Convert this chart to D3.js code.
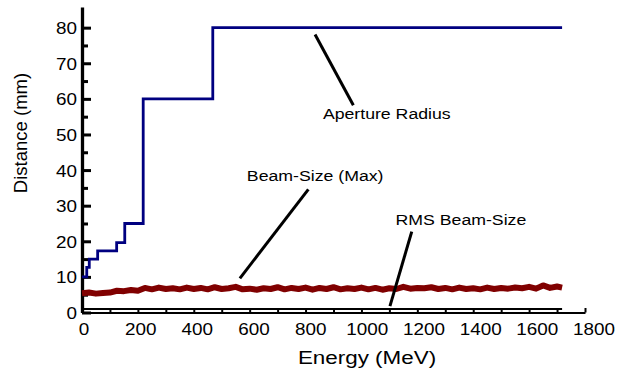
<!DOCTYPE html>
<html>
<head>
<meta charset="utf-8">
<script src="https://cdnjs.cloudflare.com/ajax/libs/d3/7.8.5/d3.min.js"></script>
<style>
	body { margin: 0; background: #fff; }
	svg { display: block; font-family: "Liberation Sans", Arial, sans-serif; }
	.axis path, .axis line { stroke: #000; }
</style>
</head>
<body>
<svg id="chart" width="625" height="371"></svg>
<script>
"use strict";

//aperture radius, step function (MeV, mm)
var apertureEnergy = [0, 17, 26, 56, 124, 153, 219, 468, 1718];
var apertureRadius = [10, 12.7, 15, 17.3, 19.6, 25, 60, 80, 80];

//maximum beam size along the linac (MeV, mm)
var beamEnergy = [0, 25, 50, 75, 100, 125, 150, 175, 200, 225, 250, 275, 300, 325, 350, 375,
	400, 425, 450, 475, 500, 525, 550, 575, 600, 625, 650, 675, 700, 725, 750, 775,
	800, 825, 850, 875, 900, 925, 950, 975, 1000, 1025, 1050, 1075, 1100, 1125, 1150, 1175,
	1200, 1225, 1250, 1275, 1300, 1325, 1350, 1375, 1400, 1425, 1450, 1475, 1500, 1525, 1550, 1575,
	1600, 1625, 1650, 1675, 1700, 1718];
var beamMax = [5.4, 5.6, 5.3, 5.5, 5.6, 6.1, 6.0, 6.3, 6.1, 6.9, 6.5, 7.0, 6.6, 6.8, 6.5, 7.0,
	6.6, 6.9, 6.5, 7.1, 6.6, 6.8, 7.2, 6.5, 6.7, 6.4, 6.8, 6.6, 7.1, 6.5, 6.9, 6.6,
	7.0, 6.4, 6.9, 6.6, 7.1, 6.5, 6.8, 6.6, 7.0, 6.5, 6.9, 6.4, 6.8, 6.6, 7.2, 6.7,
	6.9, 6.8, 7.1, 6.6, 6.9, 6.5, 7.0, 6.6, 6.8, 6.5, 7.0, 6.6, 6.9, 6.7, 7.0, 6.8,
	7.2, 6.7, 7.6, 6.9, 7.3, 7.0];

//rms beam size (MeV, mm)
var rmsEnergy = [0, 400, 800, 1200, 1718];
var rmsSize = [1.0, 1.0, 1.0, 1.0, 1.0];

//axis ticks
var xTicks = [0, 200, 400, 600, 800, 1000, 1200, 1400, 1600, 1800];
var xMinorTicks = [100, 300, 500, 700, 900, 1100, 1300, 1500, 1700];
var yTicks = [0, 10, 20, 30, 40, 50, 60, 70, 80];
var yMinorTicks = [5, 15, 25, 35, 45, 55, 65, 75];

//labels with leader lines, in data units
var labelText = ['Aperture Radius', 'Beam-Size (Max)', 'RMS Beam-Size'];
var labelAt = [[862, 54.3], [590, 36.9], [1122, 24.6]];
var leaderFrom = [[834, 78.1], [810, 34.6], [1180, 22.7]];
var leaderTo = [[971, 58.2], [565, 9.6], [1102, 1.8]];

//the original text is drawn a bit wider than the font
var STRETCH = 1.18;

var svg = d3.select('#chart');

var x = d3.scaleLinear().domain([0, 1800]).range([82, 585]);
//tick labels drift slightly right of the tick marks in the original
var xLabel = d3.scaleLinear().domain([0, 1800]).range([84, 594]);
var y = d3.scaleLinear().domain([0, 85.8]).range([312.5, 7]);

function wideText(parent, px, py, size, anchor, str) {
	return parent.append('text')
		.attr('transform', 'translate(' + px + ',' + py + ') scale(' + STRETCH + ',1)')
		.attr('text-anchor', anchor)
		.attr('font-size', size)
		.attr('fill', '#000')
		.text(str);
}

//y axis, ticks pointing inward
var yAxis = svg.append('g')
	.attr('class', 'axis')
	.attr('transform', 'translate(82,0)')
	.call(d3.axisLeft(y).tickValues(yTicks).tickSize(-9).tickSizeOuter(0).tickFormat(''));
yAxis.select('.domain').attr('stroke-width', 3.3);
yAxis.selectAll('.tick line').attr('stroke-width', 3);

var yMinor = svg.append('g')
	.attr('class', 'axis')
	.attr('transform', 'translate(82,0)')
	.call(d3.axisLeft(y).tickValues(yMinorTicks).tickSize(-6).tickSizeOuter(0).tickFormat(''));
yMinor.select('.domain').remove();
yMinor.selectAll('.tick line').attr('stroke-width', 3);

var yLabels = svg.append('g');
yTicks.forEach(function(d) {
	wideText(yLabels, 77, y(d) + 6.5, 16, 'end', d);
});

//x axis, ticks pointing up
var xAxis = svg.append('g')
	.attr('class', 'axis')
	.attr('transform', 'translate(0,' + y(0) + ')')
	.call(d3.axisBottom(x).tickValues(xTicks.concat(xMinorTicks)).tickSize(-4.5).tickSizeOuter(0)
		.tickFormat(''));
xAxis.select('.domain').attr('stroke-width', 2);
xAxis.selectAll('.tick line').attr('stroke-width', 2);

var xLabels = svg.append('g');
xTicks.forEach(function(d) {
	wideText(xLabels, xLabel(d), 335, 16, 'middle', d);
});

//axis titles
wideText(svg, 367, 364, 19, 'middle', 'Energy (MeV)');

svg.append('text')
	.attr('transform', 'translate(27,133) rotate(-90)')
	.attr('text-anchor', 'middle')
	.attr('font-size', 18.5)
	.text('Distance (mm)');

//series
function pairs(xs, ys) {
	return xs.map(function(d, i) { return [d, ys[i]]; });
}

var line = d3.line()
	.x(function(d) { return x(d[0]); })
	.y(function(d) { return y(d[1]); });

svg.append('path')
	.datum(pairs(rmsEnergy, rmsSize))
	.attr('fill', 'none')
	.attr('stroke', '#000')
	.attr('stroke-width', 2)
	.attr('d', line);

svg.append('path')
	.datum(pairs(beamEnergy, beamMax))
	.attr('fill', 'none')
	.attr('stroke', '#800000')
	.attr('stroke-width', 6)
	.attr('stroke-linejoin', 'round')
	.attr('d', line);

svg.append('path')
	.datum(pairs(apertureEnergy, apertureRadius))
	.attr('fill', 'none')
	.attr('stroke', '#000080')
	.attr('stroke-width', 2.8)
	.attr('d', line.curve(d3.curveStepAfter));

//annotations
var notes = svg.append('g');
labelText.forEach(function(t, i) {
	notes.append('line')
		.attr('x1', x(leaderFrom[i][0]))
		.attr('y1', y(leaderFrom[i][1]))
		.attr('x2', x(leaderTo[i][0]))
		.attr('y2', y(leaderTo[i][1]))
		.attr('stroke', '#000')
		.attr('stroke-width', 3);
	wideText(notes, x(labelAt[i][0]), y(labelAt[i][1]), 15, 'start', t);
});
</script>
</body>
</html>
